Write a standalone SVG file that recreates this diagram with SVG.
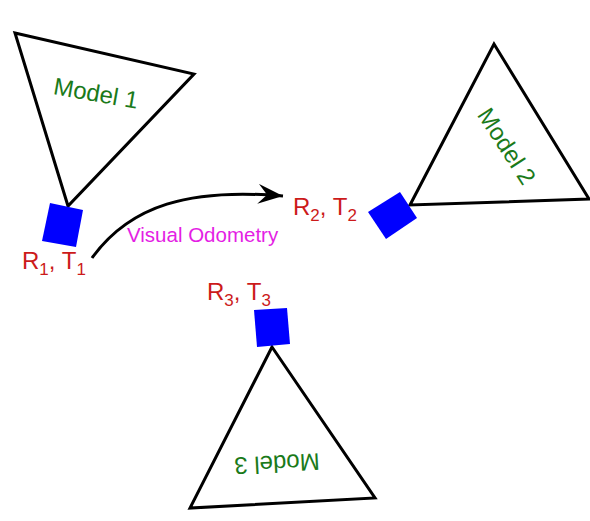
<svg xmlns="http://www.w3.org/2000/svg" width="590" height="521" viewBox="0 0 590 521">
<style>
.tri{fill:#fff;stroke:#000;stroke-width:3;stroke-linejoin:miter}
.sq{fill:#0000ff;stroke:none}
.model{font-family:"Liberation Sans",Arial,sans-serif;font-size:24px;fill:#1a7a1a}
.rt{font-family:"Liberation Sans",Arial,sans-serif;font-size:24px;fill:#cc1a1a}
.sub{font-size:17px}
.vo{font-family:"Liberation Sans",Arial,sans-serif;font-size:20.5px;fill:#e41ee4}
.conn{fill:none;stroke:#000;stroke-width:3}
</style>
<defs>
<marker id="arr" markerUnits="userSpaceOnUse" markerWidth="30" markerHeight="24" refX="25" refY="10" orient="auto" viewBox="0 0 30 24">
<path d="M0,0 L25,10 L0,20 L9,10 Z" fill="#000"/>
</marker>
</defs>
<rect width="590" height="521" fill="#fff"/>
<g id="connectors">
<path class="conn" d="M92,258 C130,205 190,188 283,196" marker-end="url(#arr)"/>
<text class="vo" x="127" y="242">Visual Odometry</text>
</g>
<g id="model1">
<polygon class="tri" points="15,33 194,74 68,206"/>
<text class="model" x="96" y="93" text-anchor="middle" dominant-baseline="central" transform="rotate(10 96 93)">Model 1</text>
</g>
<g id="cam1">
<polygon class="sq" points="50,203 83,210 76,247 42,241"/>
<text class="rt" x="22" y="269">R<tspan class="sub" dy="6">1</tspan><tspan dy="-6">, T</tspan><tspan class="sub" dy="6">1</tspan></text>
</g>
<g id="model2">
<polygon class="tri" points="494,44 589,199 410,205"/>
<text class="model" x="507" y="146" text-anchor="middle" dominant-baseline="central" transform="rotate(57 507 146)">Model 2</text>
</g>
<g id="cam2">
<polygon class="sq" points="368,212 400,192 417,218 386,239"/>
<text class="rt" x="293" y="215">R<tspan class="sub" dy="6">2</tspan><tspan dy="-6">, T</tspan><tspan class="sub" dy="6">2</tspan></text>
</g>
<g id="model3">
<polygon class="tri" points="272,347 375,498 190,508"/>
<text class="model" x="277" y="464" text-anchor="middle" dominant-baseline="central" transform="rotate(177 277 464)">Model 3</text>
</g>
<g id="cam3">
<polygon class="sq" points="254,310 287,308 290,344 257,347"/>
<text class="rt" x="207" y="300">R<tspan class="sub" dy="6">3</tspan><tspan dy="-6">, T</tspan><tspan class="sub" dy="6">3</tspan></text>
</g>
</svg>
